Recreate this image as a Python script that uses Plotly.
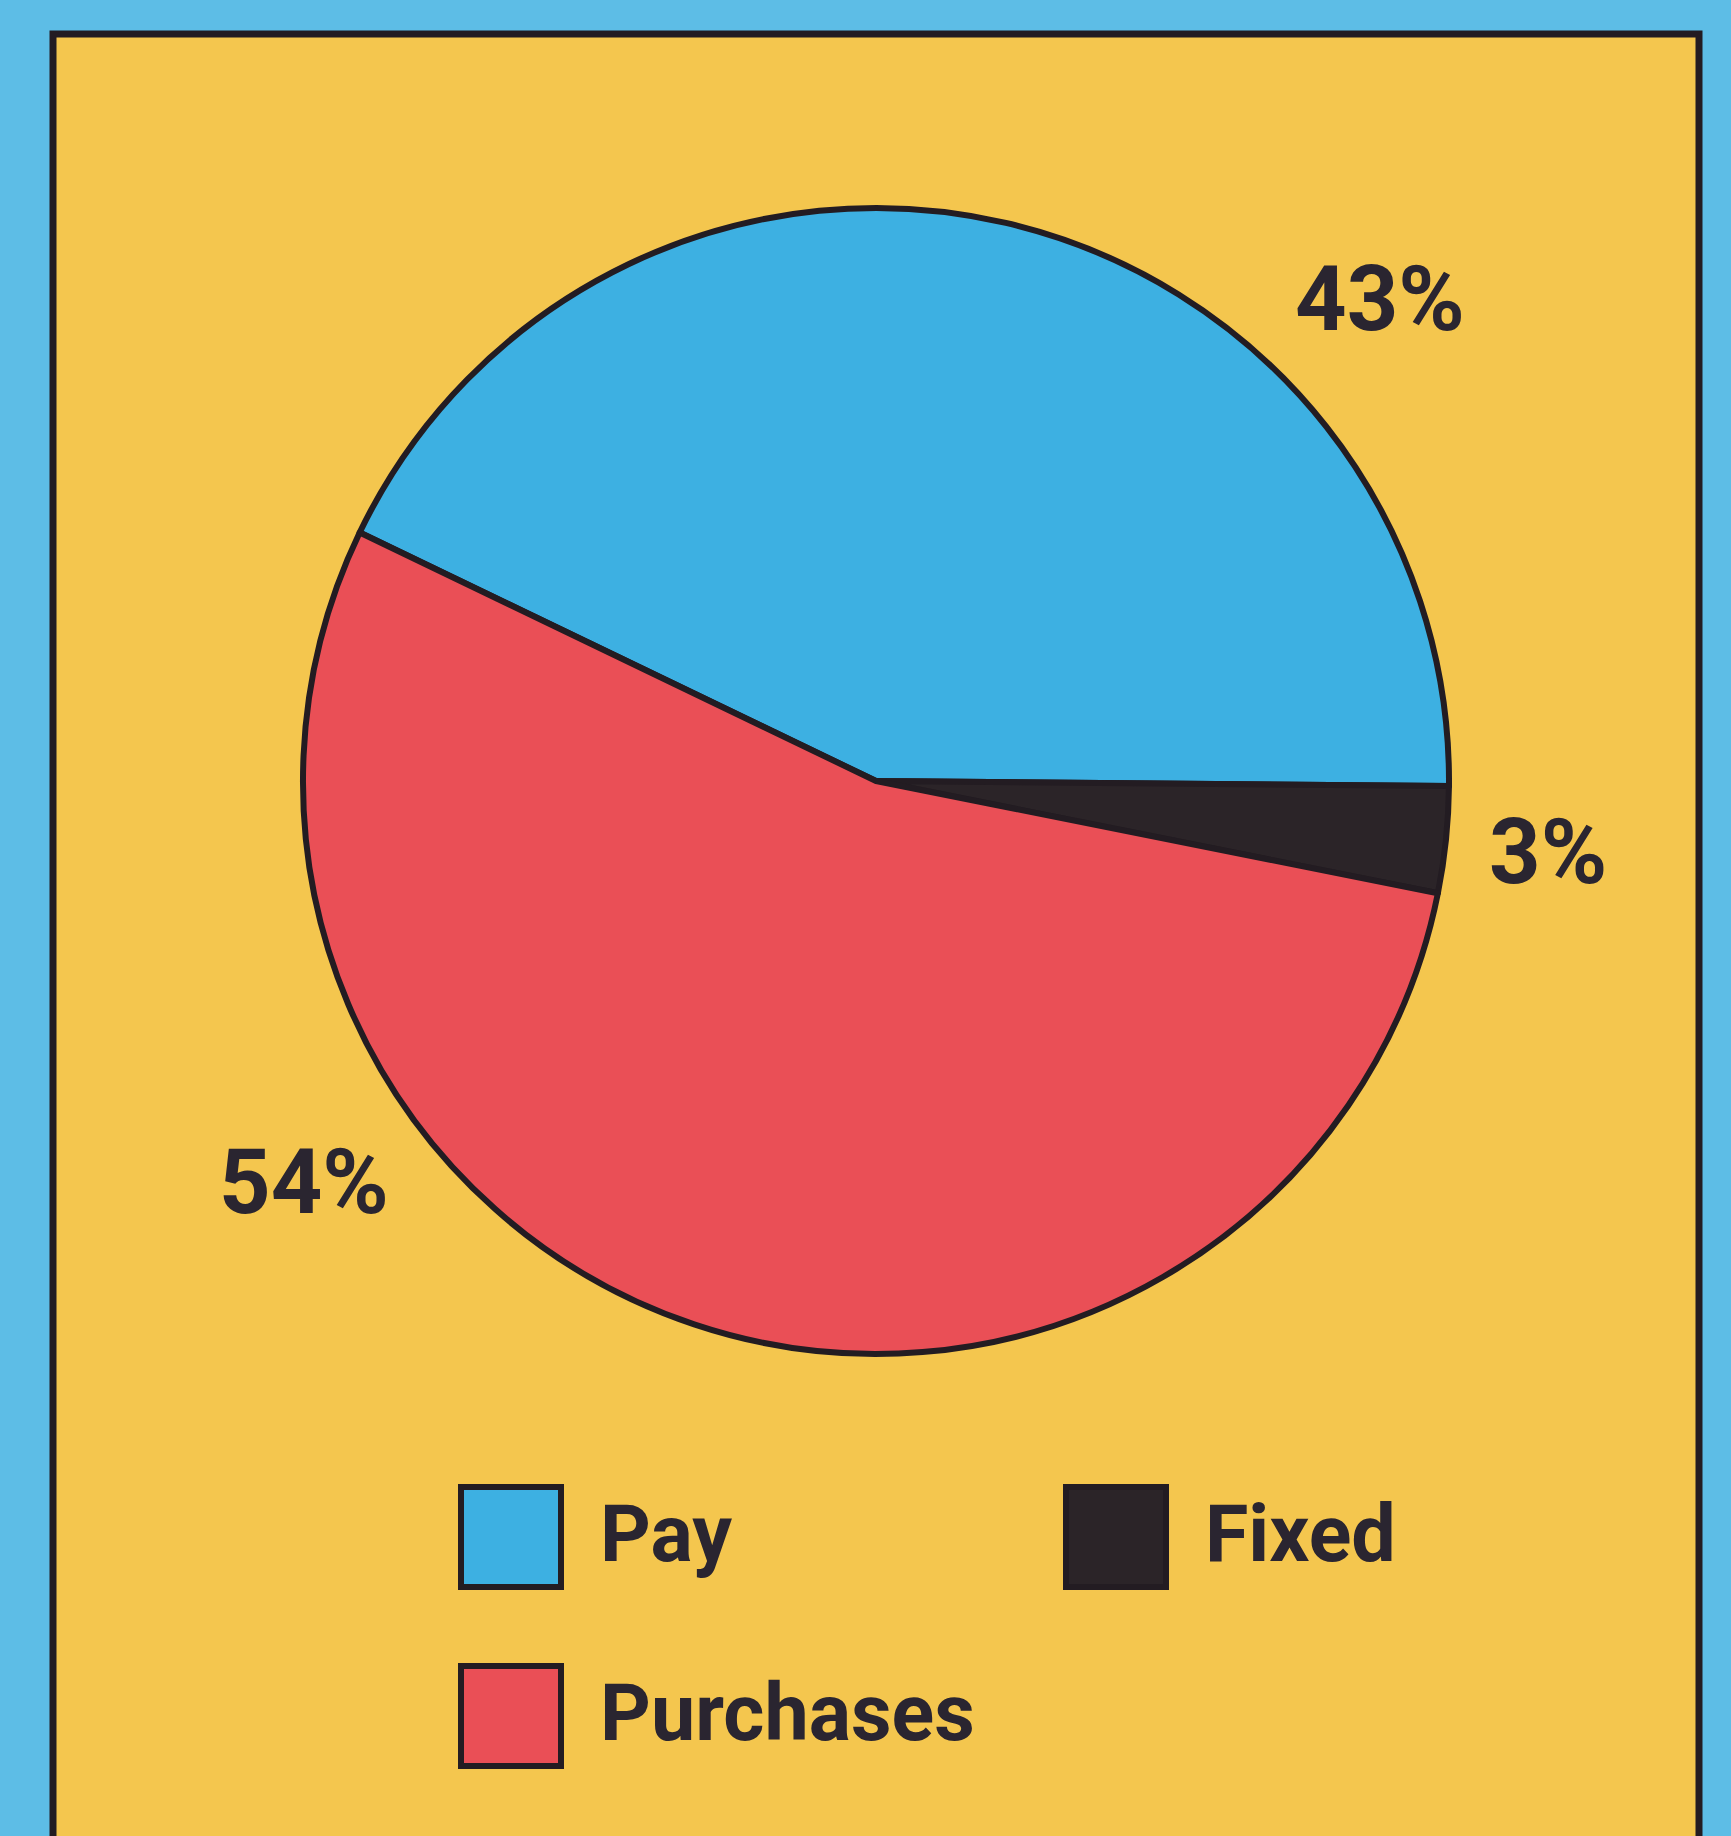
import plotly.graph_objects as go

W, H = 1731, 1836

labels = ["Pay", "Fixed", "Purchases"]
values = [43, 3, 54]
colors = ["#3db0e2", "#2b2428", "#ea4f56"]

# where each percentage label sits (pixels from top-left)
label_pos = {"Pay": (1380, 300), "Fixed": (1548, 852), "Purchases": (304, 1182)}
# legend swatch top-left corners (pixels)
legend_pos = {"Pay": (458, 1484), "Fixed": (1063, 1484), "Purchases": (458, 1663)}

INK = "#2a2530"
FONT = "Roboto, Liberation Sans, sans-serif"


def px(x):
    return x / W


def py(y):
    return 1 - y / H


cx, cy, r = 876, 781, 573

fig = go.Figure()
fig.add_trace(go.Pie(
    labels=labels,
    values=values,
    sort=False,
    direction="clockwise",
    rotation=-64.3,
    marker=dict(colors=colors, line=dict(color="#231c22", width=6)),
    textinfo="none",
    hoverinfo="label+percent",
    showlegend=False,
    domain=dict(x=[px(cx - r), px(cx + r)], y=[py(cy + r), py(cy - r)]),
))

shapes = [
    # yellow panel with its black frame
    dict(type="rect", xref="paper", yref="paper", layer="below",
         x0=px(53), x1=px(1699), y0=py(1860), y1=py(34),
         fillcolor="#f4c64e", line=dict(color="#231c22", width=7)),
]
annotations = []

for lab, val in zip(labels, values):
    x, y = label_pos[lab]
    annotations.append(dict(
        x=px(x), y=py(y), xref="paper", yref="paper", showarrow=False,
        text=f"<b>{val}%</b>", font=dict(family=FONT, size=90, color=INK),
        xanchor="center", yanchor="middle",
    ))

for lab, col in zip(labels, colors):
    x, y = legend_pos[lab]
    shapes.append(dict(
        type="rect", xref="paper", yref="paper",
        x0=px(x + 3), x1=px(x + 103), y0=py(y + 103), y1=py(y + 3),
        fillcolor=col, line=dict(color="#231c22", width=6),
    ))
    annotations.append(dict(
        x=px(x + 140), y=py(y + 50), xref="paper", yref="paper", showarrow=False,
        text=f"<b>{lab}</b>", font=dict(family=FONT, size=79, color=INK),
        xanchor="left", yanchor="middle",
    ))

fig.update_layout(
    width=W, height=H,
    margin=dict(l=0, r=0, t=0, b=0),
    paper_bgcolor="#5dbde6",
    plot_bgcolor="#5dbde6",
    shapes=shapes,
    annotations=annotations,
)

fig.write_html("out.html", config={"displayModeBar": False},
               post_script="document.body.style.margin='0';")
